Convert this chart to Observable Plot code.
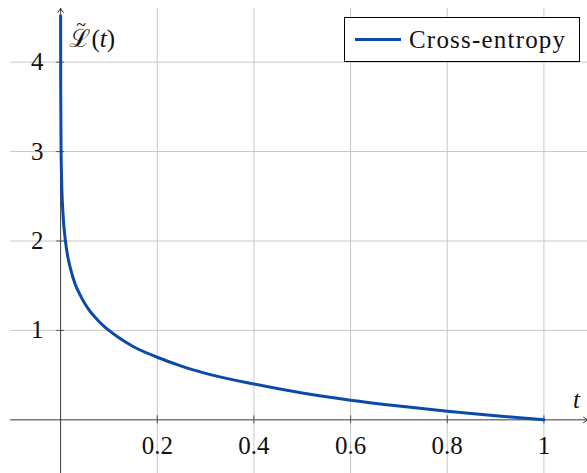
<!DOCTYPE html>
<html>
<head>
<meta charset="utf-8">
<script src="https://cdn.jsdelivr.net/npm/d3@7"></script>
<script src="https://cdn.jsdelivr.net/npm/@observablehq/plot@0.6"></script>
<style>
  html, body { margin: 0; padding: 0; background: #fff; }
  #wrap { position: relative; width: 587px; height: 473px; overflow: hidden; }
  #wrap svg text { font-family: "Liberation Serif", "Tinos", "Noto Serif", "DejaVu Serif", serif; }
  #legend {
    position: absolute; left: 344px; top: 17px; width: 234px; height: 43px;
    border: 1px solid #000; background: #fff; box-sizing: content-box;
    font-family: "Liberation Serif", "Tinos", "Noto Serif", "DejaVu Serif", serif;
    font-size: 25px; letter-spacing: 1.2px;
    display: flex; align-items: center; color: #111;
  }
  #legend .swatch { width: 46px; height: 0; border-top: 3px solid #0b4aa8; margin-left: 10px; margin-right: 8px; }
</style>
</head>
<body>
<div id="wrap"></div>
<script>
// Data
const tValues = [0.00003, 0.0002, 0.001, 0.002, 0.005, 0.01, 0.015, 0.02, 0.03, 0.04, 0.05, 0.06, 0.07, 0.08, 0.09, 0.1, 0.12, 0.15, 0.2, 0.25, 0.3, 0.4, 0.5, 0.6, 0.7, 0.8, 0.9, 1.0];
const lossValues = [4.52, 3.7, 3.0, 2.7, 2.3, 2.0, 1.82, 1.7, 1.52, 1.4, 1.3, 1.22, 1.155, 1.097, 1.045, 1.0, 0.92, 0.82, 0.7, 0.6, 0.52, 0.4, 0.3, 0.22, 0.155, 0.097, 0.046, 0.0];
const xTicks = [0.2, 0.4, 0.6, 0.8, 1];
const xTickLabels = ["0.2", "0.4", "0.6", "0.8", "1"];
const yTicks = [1, 2, 3, 4];
const yTickLabels = ["1", "2", "3", "4"];
const seriesName = "Cross-entropy";
const yLabel = "ℒ̃(t)";
const xLabel = "t";
const xDomain = [-0.1037, 1.0902];
const yDomain = [-0.6, 4.6];

const curve = tValues.map((t, i) => ({t, L: lossValues[i]}));
const blue = "#0b4aa8";
const font = "'Liberation Serif', 'Tinos', 'Noto Serif', 'DejaVu Serif', serif";

const chart = Plot.plot({
  width: 587,
  height: 473,
  marginLeft: 10,
  marginRight: 0,
  marginTop: 8,
  marginBottom: 0,
  style: {fontFamily: font, fontSize: "25px", background: "#fff"},
  x: {domain: xDomain, axis: null},
  y: {domain: yDomain, axis: null},
  marks: [
    Plot.ruleX(xTicks, {stroke: "#c8c8c8", strokeWidth: 1}),
    Plot.ruleY(yTicks, {stroke: "#c8c8c8", strokeWidth: 1}),
    Plot.arrow([{x1: xDomain[0], x2: xDomain[1], y: 0}], {x1: "x1", x2: "x2", y1: "y", y2: "y", stroke: "#222", strokeWidth: 0.9, headLength: 8, headAngle: 70}),
    Plot.arrow([{y1: yDomain[0], y2: yDomain[1], x: 0}], {x1: "x", x2: "x", y1: "y1", y2: "y2", stroke: "#222", strokeWidth: 0.9, headLength: 8, headAngle: 70}),
    Plot.ruleX(xTicks, {x: d => d, y1: 0, y2: 0, insetTop: -4, insetBottom: -4, stroke: "#555", strokeWidth: 1}),
    Plot.ruleY(yTicks, {y: d => d, x1: 0, x2: 0, insetLeft: -4, insetRight: -4, stroke: "#555", strokeWidth: 1}),
    Plot.line(curve, {x: "t", y: "L", stroke: blue, strokeWidth: 3, curve: "monotone-x", clip: true}),
    Plot.text(xTicks, {x: d => d, y: 0, text: (d, i) => xTickLabels[i], dy: 26.5, lineAnchor: "middle", textAnchor: "middle", fill: "#111"}),
    Plot.text(yTicks, {x: 0, y: d => d, text: (d, i) => yTickLabels[i], dx: -17, textAnchor: "end", lineAnchor: "middle", fill: "#111"}),
    Plot.text([xLabel], {x: xDomain[1], y: 0, text: d => d, dx: -11, dy: -20, textAnchor: "middle", lineAnchor: "middle", fontStyle: "italic", fill: "#111"}),
    Plot.text([yLabel], {x: 0, y: yDomain[1], text: d => d, dx: 9, dy: 30, textAnchor: "start", lineAnchor: "middle", fill: "#111"})
  ]
});

const wrap = document.getElementById("wrap");
wrap.appendChild(chart);

// Typeset the y label: calligraphic L with a tilde accent, italic t
d3.select(chart).selectAll("text").each(function() {
  const el = d3.select(this);
  if (el.text() === yLabel) {
    el.text(null);
    const L = el.append("tspan").attr("x", 0).text("ℒ");
    const w = L.node().getComputedTextLength();
    el.append("tspan").attr("x", w / 2 + 1).attr("dy", -16).attr("text-anchor", "middle").attr("font-size", 18).text("~");
    el.append("tspan").attr("x", w + 1).attr("dy", 16).attr("text-anchor", "start").text("(");
    el.append("tspan").attr("font-style", "italic").text("t");
    el.append("tspan").text(")");
  }
});

const legend = document.createElement("div");
legend.id = "legend";
legend.innerHTML = `<div class="swatch"></div><span>${seriesName}</span>`;
wrap.appendChild(legend);
</script>
</body>
</html>
